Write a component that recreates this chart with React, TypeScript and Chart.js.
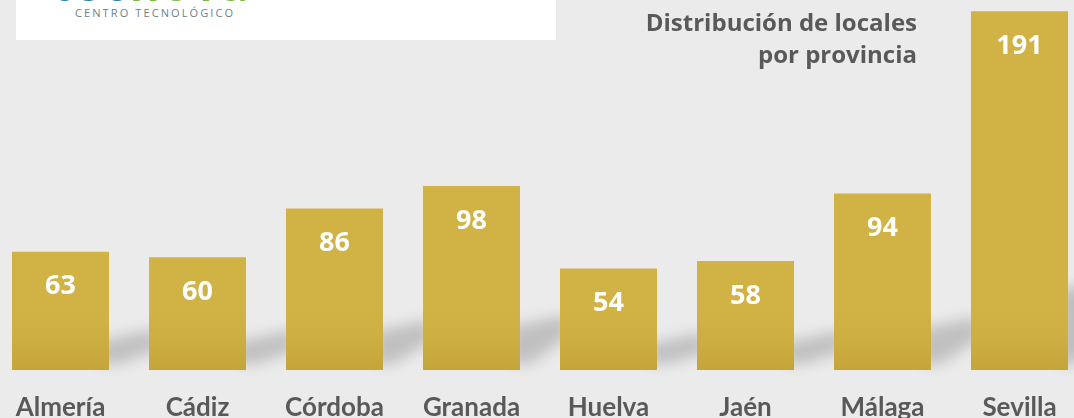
import React, { useEffect, useRef } from "react";
import { Chart, registerables } from "chart.js";

Chart.register(...registerables);

const categories: string[] = ["Almería", "Cádiz", "Córdoba", "Granada", "Huelva", "Jaén", "Málaga", "Sevilla"];
const locales: number[] = [63, 60, 86, 98, 54, 58, 94, 191];
const titleLines: string[] = ["Distribución de locales", "por provincia"];

const BG = "#ebebeb";
const GREY = "#595959";

const bgPlugin = {
  id: "bgFill",
  beforeDraw(chart: any) {
    const { ctx, width, height } = chart;
    ctx.save();
    ctx.fillStyle = BG;
    ctx.fillRect(0, 0, width, height);
    ctx.restore();
  },
};

const shadowPlugin = {
  id: "barShadows",
  beforeDatasetsDraw(chart: any) {
    const { ctx } = chart;
    const meta = chart.getDatasetMeta(0);
    ctx.save();
    ctx.filter = "blur(7px)";
    ctx.fillStyle = "rgba(0,0,0,0.18)";
    meta.data.forEach((bar: any) => {
      const right = bar.x + bar.width / 2;
      const bottom = bar.base;
      const h = bar.base - bar.y;
      const up = 0.21 * h + 4;
      ctx.beginPath();
      ctx.moveTo(right - 10, bottom - up);
      ctx.lineTo(right + 45, bottom - up - 12);
      ctx.lineTo(right + 50, bottom - up + 8);
      ctx.lineTo(right + 10, bottom - 6);
      ctx.lineTo(right - 10, bottom - 6);
      ctx.closePath();
      ctx.fill();
    });
    ctx.restore();
  },
};

const valueLabelPlugin = {
  id: "valueLabels",
  afterDatasetsDraw(chart: any) {
    const { ctx } = chart;
    const meta = chart.getDatasetMeta(0);
    const data = chart.data.datasets[0].data as number[];
    ctx.save();
    ctx.fillStyle = "#ffffff";
    ctx.font = "bold 27px 'Open Sans'";
    ctx.textAlign = "center";
    ctx.textBaseline = "middle";
    meta.data.forEach((bar: any, i: number) => {
      ctx.fillText(String(data[i]), bar.x, bar.y + 35);
    });
    ctx.restore();
  },
};

export default function App() {
  const canvasRef = useRef<HTMLCanvasElement | null>(null);

  useEffect(() => {
    document.body.style.margin = "0";
    const canvas = canvasRef.current;
    if (!canvas) return;
    const chart = new Chart(canvas, {
      type: "bar",
      data: {
        labels: categories,
        datasets: [
          {
            data: locales,
            backgroundColor: (context: any) => {
              const c = context.chart;
              const area = c.chartArea;
              if (!area) return "#d1b245";
              const g = c.ctx.createLinearGradient(0, area.bottom - 60, 0, area.bottom);
              g.addColorStop(0, "#d1b245");
              g.addColorStop(0.5, "#cdae42");
              g.addColorStop(1, "#c5a53b");
              return g;
            },
            borderWidth: 0,
            categoryPercentage: 1,
            barPercentage: 0.708,
          },
        ],
      },
      options: {
        responsive: false,
        maintainAspectRatio: false,
        animation: false,
        layout: { padding: 0 },
        plugins: {
          legend: { display: false },
          tooltip: { enabled: false },
          title: { display: false },
        },
        scales: {
          x: {
            offset: true,
            grid: { display: false, drawTicks: false },
            border: { display: false },
            ticks: {
              color: GREY,
              font: { family: "Lato", weight: "bold", size: 26 },
              padding: 22,
              maxRotation: 0,
              autoSkip: false,
            },
            afterFit(scale: any) {
              scale.height = 48;
            },
          },
          y: {
            display: false,
            min: 0,
            max: 197,
          },
        },
      },
      plugins: [bgPlugin, shadowPlugin, valueLabelPlugin],
    });
    return () => chart.destroy();
  }, []);

  return (
    <div
      style={{
        position: "fixed",
        left: 0,
        top: 0,
        width: 1074,
        height: 418,
        overflow: "hidden",
        background: BG,
      }}
    >
      <canvas
        ref={canvasRef}
        width={1096}
        height={418}
        style={{ position: "absolute", left: -8, top: 0, width: 1096, height: 418 }}
      />
      <div
        style={{
          position: "absolute",
          left: 16,
          top: 0,
          width: 540,
          height: 40,
          background: "#ffffff",
          overflow: "hidden",
        }}
      >
        <div
          style={{
            position: "absolute",
            left: 36,
            top: -45,
            fontFamily: "Lato",
            fontWeight: 700,
            fontSize: 52,
            lineHeight: "52px",
            letterSpacing: 2,
            whiteSpace: "nowrap",
          }}
        >
          <span style={{ color: "#2a7fa6" }}>tec</span>
          <span style={{ color: "#79bb43" }}>nova</span>
        </div>
        <div
          style={{
            position: "absolute",
            left: 59,
            top: 6,
            fontFamily: "'Open Sans'",
            fontSize: 11,
            lineHeight: "14px",
            letterSpacing: 2.1,
            color: "#6e7f88",
            whiteSpace: "nowrap",
          }}
        >
          CENTRO TECNOLÓGICO
        </div>
      </div>
      <div
        style={{
          position: "absolute",
          right: 157,
          top: 6,
          textAlign: "right",
          fontFamily: "'Open Sans'",
          fontWeight: 700,
          fontSize: 24,
          lineHeight: "32px",
          color: GREY,
          whiteSpace: "nowrap",
        }}
      >
        {titleLines.map((t, i) => (
          <div key={i}>{t}</div>
        ))}
      </div>
    </div>
  );
}
